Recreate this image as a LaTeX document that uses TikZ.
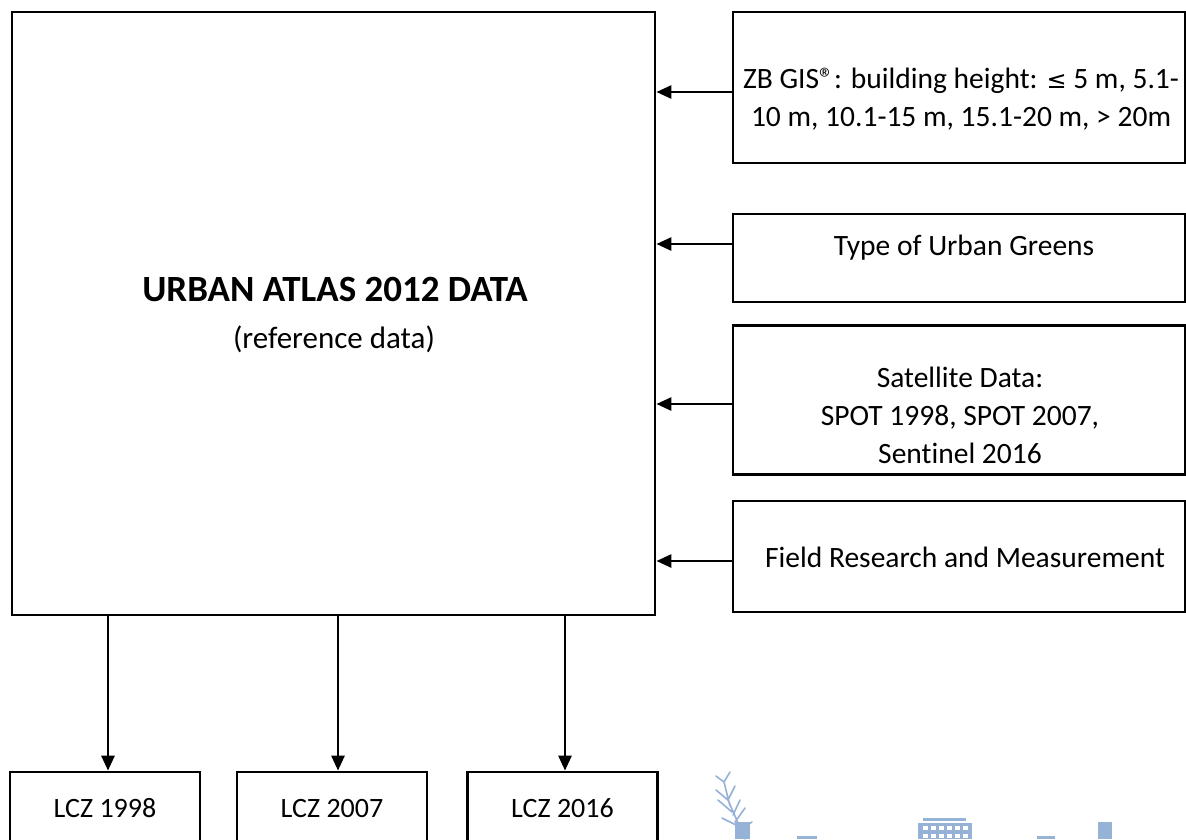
\documentclass[tikz,border=0pt]{standalone}
\usepackage{fontspec}
\setmainfont{Carlito}[Ligatures=NoCommon]
\newfontfamily\symfont{DejaVu Sans}
\usetikzlibrary{arrows.meta}
\definecolor{wmblue}{RGB}{150,178,214}
\begin{document}
\begin{tikzpicture}[x=1pt,y=-1pt,
  boxstyle/.style={draw=black,line width=2.8pt,rectangle,inner sep=0pt},
  txt/.style={font=\fontsize{29.5}{38}\selectfont,align=center,inner sep=0pt},
  arr/.style={line width=2.8pt,-{Triangle[length=15pt,width=13pt]}},
  wm/.style={fill=wmblue,draw=none},
  wmline/.style={draw=wmblue,line width=1.6pt,line cap=round}
]
\useasboundingbox (0,0) rectangle (1186,839);
\clip (0,0) rectangle (1186,839);
% faint background skyline (watermark)
\draw[wmline] (745,839) -- (728,800) (735,822) -- (745,808) (732,812) -- (718,800)
  (728,800) -- (735,786) (728,800) -- (716,790) (740,830) -- (752,822) (738,826) -- (722,818)
  (733,815) -- (740,800) (730,806) -- (724,782) (724,782) -- (730,772) (724,782) -- (716,776);
\fill[wm] (735,822) rectangle (750,839);
\fill[wm] (797,836) rectangle (817,839);
\fill[wm] (918,823) rectangle (972,839);
\fill[wm] (923,818) rectangle (966,821);
\foreach \i in {0,...,5}{
  \fill[white] (923+\i*8,826) rectangle (928+\i*8,830);
  \fill[white] (923+\i*8,834) rectangle (928+\i*8,838);
}
\fill[wm] (1037,836) rectangle (1055,839);
\fill[wm] (1098,822) rectangle (1112,839);
% main box
\node[boxstyle,minimum width=643pt,minimum height=603pt] (main) at (333.5,313.5) {};
\node[txt,font=\fontsize{37}{41}\selectfont\bfseries] (title) at (335,289) {URBAN ATLAS 2012 DATA};
\node[txt,font=\fontsize{31}{41}\selectfont] (ref) at (334,339) {(reference data)};
% right boxes
\node[boxstyle,minimum width=452pt,minimum height=151pt] (b1) at (959,87.5) {};
\node[txt] (t1) at (961,99) {ZB GIS®: building height: {\symfont\fontsize{24}{30}\selectfont ≤} 5 m, 5.1-\\10 m, 10.1-15 m, 15.1-20 m, > 20m};
\node[boxstyle,minimum width=452pt,minimum height=88pt] (b2) at (959,258) {};
\node[txt] (t2) at (964,248) {Type of Urban Greens};
\node[boxstyle,minimum width=452pt,minimum height=149pt] (b3) at (959,400) {};
\node[txt] (t3) at (960,415) {Satellite Data:\\SPOT 1998, SPOT 2007,\\Sentinel 2016};
\node[boxstyle,minimum width=452pt,minimum height=111pt] (b4) at (959,556.5) {};
\node[txt] (t4) at (965,557) {Field Research and Measurement};
% LCZ boxes
\node[boxstyle,fill=white,minimum width=190pt,minimum height=120pt] (l1) at (105,832) {};
\node[boxstyle,fill=white,minimum width=190pt,minimum height=120pt] (l2) at (332,832) {};
\node[boxstyle,fill=white,minimum width=190pt,minimum height=120pt] (l3) at (562.5,832) {};
\node[txt,font=\fontsize{28}{34}\selectfont] (lt1) at (105,808) {LCZ 1998};
\node[txt,font=\fontsize{28}{34}\selectfont] (lt2) at (332,808) {LCZ 2007};
\node[txt,font=\fontsize{28}{34}\selectfont] (lt3) at (562.5,808) {LCZ 2016};
% arrow levels
\coordinate (y1) at (0,92);
\coordinate (y2) at (0,244);
\coordinate (y3) at (0,404);
\coordinate (y4) at (0,561);
\coordinate (x1) at (108,0);
\coordinate (x2) at (338,0);
\coordinate (x3) at (565,0);
\draw[arr] (b1.west |- y1) -- (main.east |- y1);
\draw[arr] (b2.west |- y2) -- (main.east |- y2);
\draw[arr] (b3.west |- y3) -- (main.east |- y3);
\draw[arr] (b4.west |- y4) -- (main.east |- y4);
\draw[arr] (main.south -| x1) -- (l1.north -| x1);
\draw[arr] (main.south -| x2) -- (l2.north -| x2);
\draw[arr] (main.south -| x3) -- (l3.north -| x3);
\end{tikzpicture}
\end{document}
